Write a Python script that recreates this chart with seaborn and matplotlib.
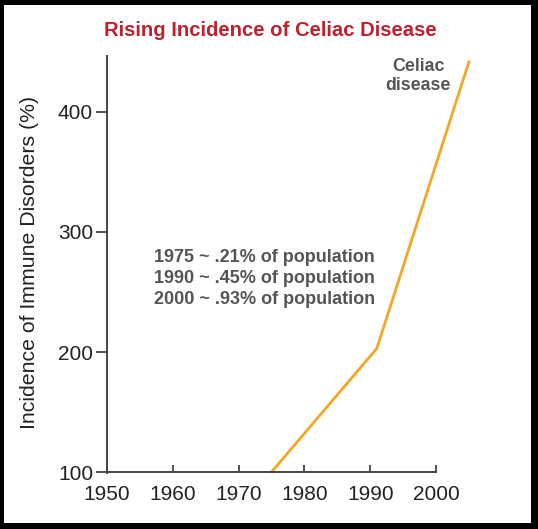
import matplotlib.pyplot as plt
from matplotlib.patches import Rectangle
import pandas as pd
import seaborn as sns

# data
years = [1975, 1991, 2005]
incidence = [100, 203, 442]
notes = ['1975 ~ .21% of population',
         '1990 ~ .45% of population',
         '2000 ~ .93% of population']
xticks = [1950, 1960, 1970, 1980, 1990, 2000]
yticks = [100, 200, 300, 400]

df = pd.DataFrame({'year': years, 'value': incidence})

sns.set_style('ticks')
plt.rcParams['font.family'] = ['Liberation Sans', 'DejaVu Sans']

W, H = 538, 529
fig = plt.figure(figsize=(W / 100, H / 100), dpi=100)
fig.patch.set_facecolor('black')
fig.add_artist(Rectangle((4 / W, 6 / H), 527 / W, 518 / H, transform=fig.transFigure,
                         facecolor='white', edgecolor='none', zorder=0))

ax = fig.add_axes([107 / W, 1 - 472 / H, 362 / W, 420 / H])
ax.set_facecolor('none')
sns.lineplot(data=df, x='year', y='value', ax=ax, color='#F5A627', linewidth=2, clip_on=False)

ax.set_xlim(1950, 2005)
ax.set_ylim(100, 450)
ax.set_xticks(xticks)
ax.set_yticks(yticks)
ax.spines['right'].set_visible(False)
ax.spines['top'].set_visible(False)
ax.spines['bottom'].set_bounds(1950, 2000)
ax.spines['left'].set_bounds(99, 447)
ax.spines['left'].set_clip_on(False)
for s in ['left', 'bottom']:
    ax.spines[s].set_color('#444444')
    ax.spines[s].set_linewidth(1.4)
ax.tick_params(colors='#444444', labelcolor='#222222', labelsize=15, width=1.3)
ax.tick_params(axis='y', length=8, direction='out', pad=2)
ax.tick_params(axis='x', length=5, direction='in', pad=9)
ax.set_xlabel('')
ax.set_ylabel('Incidence of Immune Disorders (%)', fontsize=15.3, color='#222222', labelpad=14)

fig.text(270 / W, 1 - 31 / H, 'Rising Incidence of Celiac Disease', ha='center', va='center',
         fontsize=14.6, fontweight='bold', color='#C0202E')

for i, t in enumerate(notes):
    ax.text(1973.9, 279 - i * 17.5, t, ha='center', va='center', fontsize=13,
            fontweight='bold', color='#555555')
ax.text(1997.3, 430, 'Celiac\ndisease', ha='center', va='center', fontsize=12.8,
        fontweight='bold', color='#555555', linespacing=1.15)

fig.savefig('out.png', dpi=100)
